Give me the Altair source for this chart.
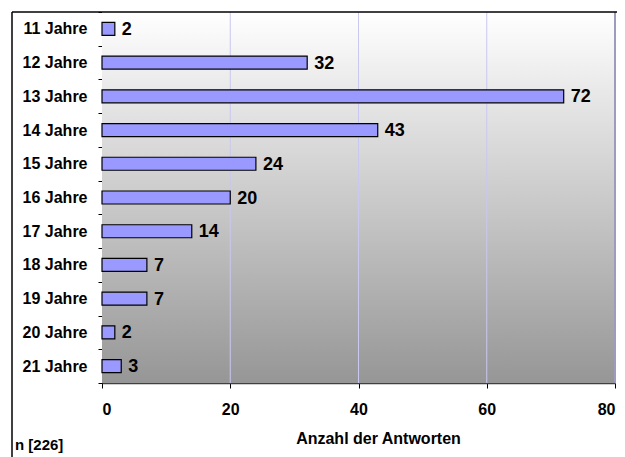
import altair as alt
import pandas as pd

ages = ["11 Jahre", "12 Jahre", "13 Jahre", "14 Jahre", "15 Jahre", "16 Jahre",
        "17 Jahre", "18 Jahre", "19 Jahre", "20 Jahre", "21 Jahre"]
counts = [2, 32, 72, 43, 24, 20, 14, 7, 7, 2, 3]
x_ticks = [0, 20, 40, 60, 80]
grid_vals = [20, 40, 60]
x_title = "Anzahl der Antworten"
note = "n [226]"

W, H = 513, 371
PAD_L, PAD_T, PAD_R, PAD_B = 94, 4, 2, 80
FONT = "Liberation Sans"

df = pd.DataFrame({"age": ages, "n": counts})
xscale = alt.Scale(domain=[0, 80], nice=False, zero=True)
yscale = alt.Scale(domain=ages, paddingInner=0, paddingOuter=0)

x_axis = alt.Axis(values=x_ticks, title=x_title, grid=False,
                  domainColor="#404040", domainWidth=1.5,
                  tickColor="#000000", tickSize=5,
                  labelFont=FONT, labelFontSize=16, labelFontWeight="bold",
                  labelColor="#000000", labelPadding=13,
                  titleFont=FONT, titleFontSize=16, titleFontWeight="bold",
                  titleColor="#000000", titlePadding=13, titleX=276)

one = pd.DataFrame({"a": [0]})

grad = alt.LinearGradient(
    gradient="linear",
    stops=[alt.GradientStop(offset=0, color="#FFFFFF"),
           alt.GradientStop(offset=1, color="#969696")],
    x1=0, x2=0, y1=0, y2=1,
)

bg = alt.Chart(one).mark_rect(color=grad).encode(
    x=alt.value(0), x2=alt.value(W), y=alt.value(0), y2=alt.value(H)
)

grid = alt.Chart(pd.DataFrame({"v": grid_vals})).mark_rule(
    color="#C8C8F0", strokeWidth=1
).encode(
    x=alt.X("v:Q", scale=xscale, axis=x_axis),
    y=alt.value(0), y2=alt.value(H)
)

bars = alt.Chart(df).mark_bar(
    color="#9999FF", stroke="#000000", strokeWidth=1.2, size=13
).encode(
    x=alt.X("n:Q", scale=xscale, axis=x_axis),
    y=alt.Y("age:N", sort=ages, scale=yscale,
            axis=alt.Axis(title=None, tickBand="extent", domainColor="#000000",
                          tickColor="#000000", tickSize=4,
                          labelFont=FONT, labelFontSize=16, labelFontWeight="bold",
                          labelColor="#000000", labelPadding=11)),
)

labels = alt.Chart(df).mark_text(
    align="left", baseline="middle", dx=7, dy=1,
    font=FONT, fontSize=18, fontWeight="bold", color="#000000"
).encode(
    x=alt.X("n:Q", scale=xscale, axis=x_axis),
    y=alt.Y("age:N", sort=ages, scale=yscale),
    text=alt.Text("n:Q"),
)

right_border = alt.Chart(one).mark_rule(color="#9C9CBC", strokeWidth=2).encode(
    x=alt.value(W), y=alt.value(0), y2=alt.value(H)
)
frame_left = alt.Chart(one).mark_rule(color="#000000", strokeWidth=1.5).encode(
    x=alt.value(-90), x2=alt.value(-90), y=alt.value(0), y2=alt.value(H + PAD_B)
)
frame_top = alt.Chart(one).mark_rule(color="#000000", strokeWidth=1.5).encode(
    x=alt.value(-90), x2=alt.value(W + PAD_R), y=alt.value(0)
)

note_text = alt.Chart(one).mark_text(
    align="left", baseline="middle", font=FONT, fontSize=15,
    fontWeight="bold", color="#000000", text=note
).encode(x=alt.value(-87), y=alt.value(433))

chart = alt.layer(
    bg, grid, bars, labels, right_border, frame_left, frame_top, note_text
).properties(
    width=W, height=H,
    autosize=alt.AutoSizeParams(type="none"),
    padding={"left": PAD_L, "top": PAD_T, "right": PAD_R, "bottom": PAD_B},
    background="#FFFFFF",
).configure_view(stroke="transparent")

chart.save("out.html", embed_options={"renderer": "svg", "actions": False})
